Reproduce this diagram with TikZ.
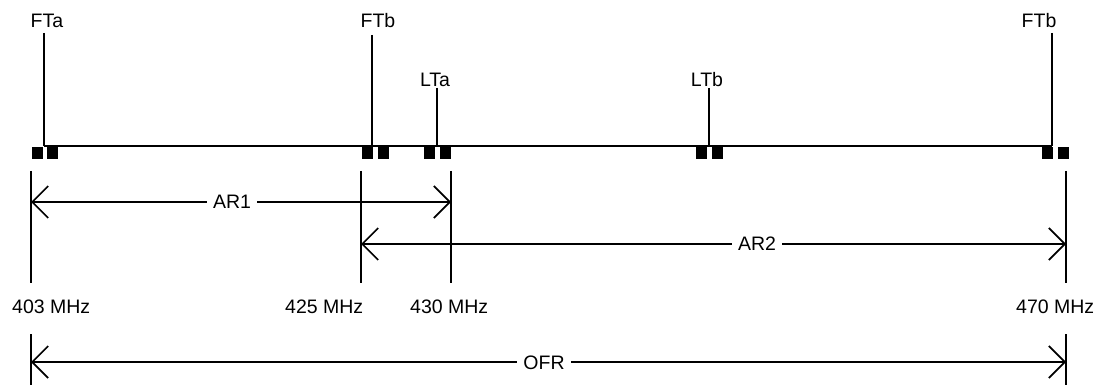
\documentclass[tikz,border=0pt]{standalone}
\usepackage{fontspec}
\setmainfont{Liberation Sans}
\usetikzlibrary{arrows.meta}
\begin{document}
\begin{tikzpicture}[x=1pt,y=-1pt,
  lbl/.style={font=\fontsize{19.5}{22}\selectfont, inner sep=0pt},
  ln/.style={line width=1.7pt, line cap=butt},
  sq/.style={fill=black, draw=none},
  dim/.style={line width=1.7pt, {Straight Barb[length=16pt,width=32pt,line width=1.7pt]}-{Straight Barb[length=16pt,width=32pt,line width=1.7pt]}},
  dimlbl/.style={font=\fontsize{19.5}{22}\selectfont, fill=white, inner xsep=6pt, inner ysep=2pt}]
\useasboundingbox (0,0) rectangle (1101,385);
% top labels
\node[lbl, anchor=base] (FTa) at (47,28) {FTa};
\node[lbl, anchor=base] (FTb1) at (378,28) {FTb};
\node[lbl, anchor=base] (LTa) at (435,87) {LTa};
\node[lbl, anchor=base] (LTb) at (707,87) {LTb};
\node[lbl, anchor=base] (FTb2) at (1039,28) {FTb};
% tick coordinates
\coordinate (tA) at (44,33);  \coordinate (bA) at (44,146);
\coordinate (tB) at (372,35); \coordinate (bB) at (372,146);
\coordinate (tC) at (437,88); \coordinate (bC) at (437,146);
\coordinate (tD) at (709,88); \coordinate (bD) at (709,146);
\coordinate (tE) at (1052,33); \coordinate (bE) at (1052,146);
\draw[ln] (bA) -- (bE);
\draw[ln] (tA) -- (bA);
\draw[ln] (tB) -- (bB);
\draw[ln] (tC) -- (bC);
\draw[ln] (tD) -- (bD);
\draw[ln] (tE) -- (bE);
% squares
\foreach \xa/\xb in {32/47, 362/378, 424/440, 696/712, 1042/1058}{
  \fill[sq] (\xa,147) rectangle ++(11,12);
  \fill[sq] (\xb,147) rectangle ++(11,12);
}
% dimension verticals
\coordinate (v1t) at (31,171);   \coordinate (v1b) at (31,283);
\coordinate (v2t) at (361,171);  \coordinate (v2b) at (361,283);
\coordinate (v3t) at (451,171);  \coordinate (v3b) at (451,283);
\coordinate (v4t) at (1066,171); \coordinate (v4b) at (1066,283);
\draw[ln] (v1t) -- (v1b);
\draw[ln] (v2t) -- (v2b);
\draw[ln] (v3t) -- (v3b);
\draw[ln] (v4t) -- (v4b);
% arrows
\coordinate (a1l) at (31,202);  \coordinate (a1r) at (451,202);
\coordinate (a2l) at (361,244); \coordinate (a2r) at (1066,244);
\draw[dim] (a1l) -- (a1r);
\node[dimlbl] (AR1) at (232,202) {AR1};
\draw[dim] (a2l) -- (a2r);
\node[dimlbl] (AR2) at (757,244) {AR2};
% frequency labels
\node[lbl, anchor=base west] (f403) at (12,313) {403 MHz};
\node[lbl, anchor=base west] (f425) at (285,313) {425 MHz};
\node[lbl, anchor=base west] (f430) at (410,313) {430 MHz};
\node[lbl, anchor=base west] (f470) at (1016,313) {470 MHz};
% OFR
\coordinate (o1t) at (31,334);   \coordinate (o1b) at (31,385);
\coordinate (o2t) at (1066,334); \coordinate (o2b) at (1066,385);
\draw[ln] (o1t) -- (o1b);
\draw[ln] (o2t) -- (o2b);
\coordinate (ol) at (31,362); \coordinate (or) at (1066,362);
\draw[dim] (ol) -- (or);
\node[dimlbl] (OFR) at (544,363) {OFR};
\end{tikzpicture}
\end{document}
